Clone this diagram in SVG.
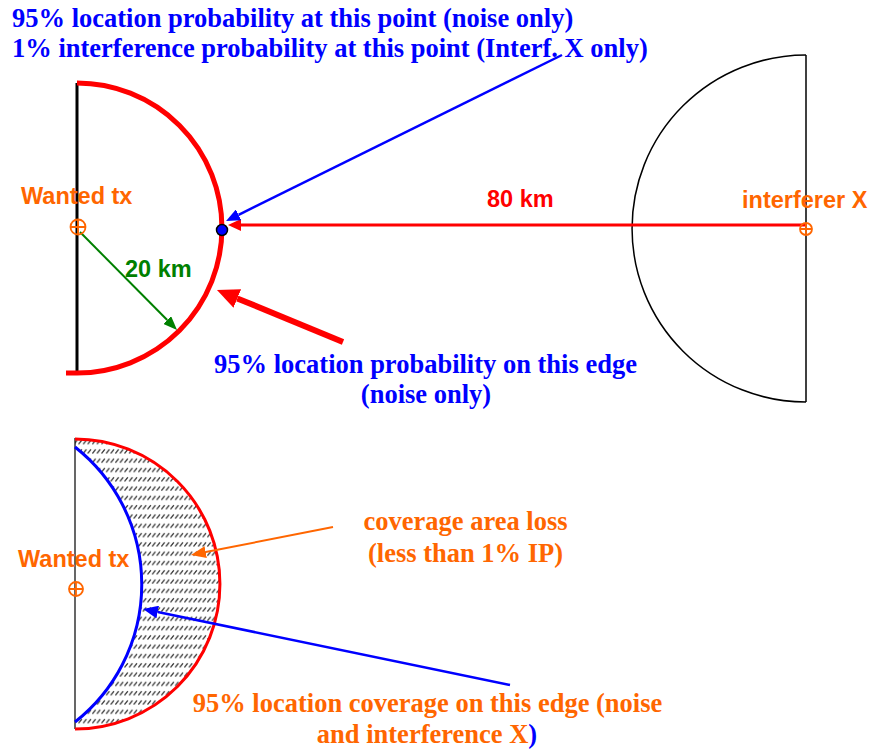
<svg xmlns="http://www.w3.org/2000/svg" width="871" height="749" viewBox="0 0 871 749">
<style>
.serif{font-family:"Liberation Serif","Times New Roman",serif;font-weight:bold;font-size:26.5px}
.sans{font-family:"Liberation Sans",Arial,sans-serif;font-weight:bold;font-size:23.5px}
.blue{fill:#0000FF}
.orange{fill:#FF6600}
.red{fill:#FF0000}
.green{fill:#008000}
.tx{fill:none;stroke:#FF6600;stroke-width:1.8}
</style>
<defs>
<marker id="ahRedBig" markerUnits="userSpaceOnUse" viewBox="0 -10 22 20" markerWidth="22" markerHeight="20" refX="0" refY="0" orient="auto"><path d="M0,-10 L22,0 L0,10 Z" fill="#FF0000"/></marker>
<marker id="ahRed" markerUnits="userSpaceOnUse" viewBox="0 -6 13 12" markerWidth="13" markerHeight="12" refX="0" refY="0" orient="auto"><path d="M0,-6 L13,0 L0,6 Z" fill="#FF0000"/></marker>
<marker id="ahGreen" markerUnits="userSpaceOnUse" viewBox="0 -5.5 14 11" markerWidth="14" markerHeight="11" refX="0" refY="0" orient="auto"><path d="M0,-5.5 L14,0 L0,5.5 Z" fill="#008000"/></marker>
<marker id="ahBlue" markerUnits="userSpaceOnUse" viewBox="0 -6 14 12" markerWidth="14" markerHeight="12" refX="0" refY="0" orient="auto"><path d="M0,-6 L14,0 L0,6 Z" fill="#0000FF"/></marker>
<marker id="ahBlue2" markerUnits="userSpaceOnUse" viewBox="0 -6.5 15 13" markerWidth="15" markerHeight="13" refX="0" refY="0" orient="auto"><path d="M0,-6.5 L15,0 L0,6.5 Z" fill="#0000FF"/></marker>
<marker id="ahOrange" markerUnits="userSpaceOnUse" viewBox="0 -6 15 12" markerWidth="15" markerHeight="12" refX="0" refY="0" orient="auto"><path d="M0,-6 L15,0 L0,6 Z" fill="#FF6600"/></marker>
<pattern id="hatch" patternUnits="userSpaceOnUse" x="0" y="0" width="4.6" height="9.3">
<line x1="0.4" y1="7" x2="3.6" y2="3" stroke="#333" stroke-width="1.2"/>
</pattern>
</defs>

<!-- top texts -->
<g id="label-top">
<text class="serif blue" x="12" y="27">95% location probability at this point (noise only)</text>
<text class="serif blue" x="12" y="57">1% interference probability at this point (Interf. X only)</text>
</g>

<!-- wanted tx coverage (top) -->
<g id="wanted-coverage-top">
<line x1="77" y1="83" x2="77" y2="373" stroke="#000" stroke-width="3"/>
<path d="M77,83 A145,145 0 0 1 77,373 L66,373" fill="none" stroke="#FF0000" stroke-width="5"/>
</g>

<!-- interferer coverage -->
<g id="interferer-coverage">
<line x1="806" y1="55" x2="806" y2="402" stroke="#000" stroke-width="1.5"/>
<path d="M806,55 A174,173.5 0 0 0 806,402" fill="none" stroke="#000" stroke-width="1.5"/>
</g>

<g id="connectors">
<line x1="806" y1="225" x2="241" y2="225" stroke="#FF0000" stroke-width="3" marker-end="url(#ahRed)"/>
<line x1="562" y1="55" x2="238.6" y2="214.8" stroke="#0000FF" stroke-width="2.5" marker-end="url(#ahBlue)"/>
<line x1="80" y1="232" x2="167.2" y2="320" stroke="#008000" stroke-width="2" marker-end="url(#ahGreen)"/>
<line x1="343" y1="342" x2="237.3" y2="298.4" stroke="#FF0000" stroke-width="6" marker-end="url(#ahRedBig)"/>
</g>

<g id="point">
<circle cx="222" cy="230" r="5.5" fill="#0000FF" stroke="#000" stroke-width="1.5"/>
</g>

<g id="wanted-tx-top">
<text class="sans orange" x="21" y="204">Wanted tx</text>
<circle class="tx" cx="78" cy="227" r="7.5"/>
<path class="tx" d="M70.5,227 H85.5 M78,219.5 V234.5"/>
</g>

<g id="interferer-x">
<text class="sans orange" x="742" y="208">interferer X</text>
<circle class="tx" cx="806" cy="229" r="6"/>
<path class="tx" d="M800,229 H812 M806,223 V235"/>
</g>

<g id="labels-mid">
<text class="sans red" x="487" y="207">80 km</text>
<text class="sans green" x="125" y="277">20 km</text>
<text class="serif blue" x="425.5" y="373" text-anchor="middle">95% location probability on this edge</text>
<text class="serif blue" x="426" y="403" text-anchor="middle">(noise only)</text>
</g>

<!-- bottom diagram -->
<g id="wanted-coverage-bottom">
<path d="M75,439 A145,145 0 0 1 75,729 L75,722 A175,175 0 0 0 75,447 Z" fill="url(#hatch)"/>
<line x1="75" y1="438" x2="75" y2="729" stroke="#000" stroke-width="1.2"/>
<path d="M75,439 A145,145 0 0 1 75,729" fill="none" stroke="#FF0000" stroke-width="3"/>
<path d="M75,447 A175,175 0 0 1 75,722" fill="none" stroke="#0000FF" stroke-width="3"/>
</g>

<g id="wanted-tx-bottom">
<text class="sans orange" x="18" y="567">Wanted tx</text>
<circle class="tx" cx="76" cy="589" r="7"/>
<path class="tx" d="M69,589 H83 M76,582 V596"/>
</g>

<g id="connectors-bottom">
<line x1="333" y1="527" x2="205.7" y2="552.1" stroke="#FF6600" stroke-width="2" marker-end="url(#ahOrange)"/>
<line x1="510" y1="685" x2="157.7" y2="612" stroke="#0000FF" stroke-width="2.5" marker-end="url(#ahBlue2)"/>
</g>

<g id="labels-bottom">
<text class="serif orange" x="465.5" y="530" text-anchor="middle">coverage area loss</text>
<text class="serif orange" x="465.5" y="562" text-anchor="middle">(less than 1% IP)</text>
<text class="serif orange" x="427.5" y="712" text-anchor="middle">95% location coverage on this edge (noise</text>
<text class="serif orange" x="427" y="743" text-anchor="middle">and interference X<tspan class="blue">)</tspan></text>
</g>
</svg>
